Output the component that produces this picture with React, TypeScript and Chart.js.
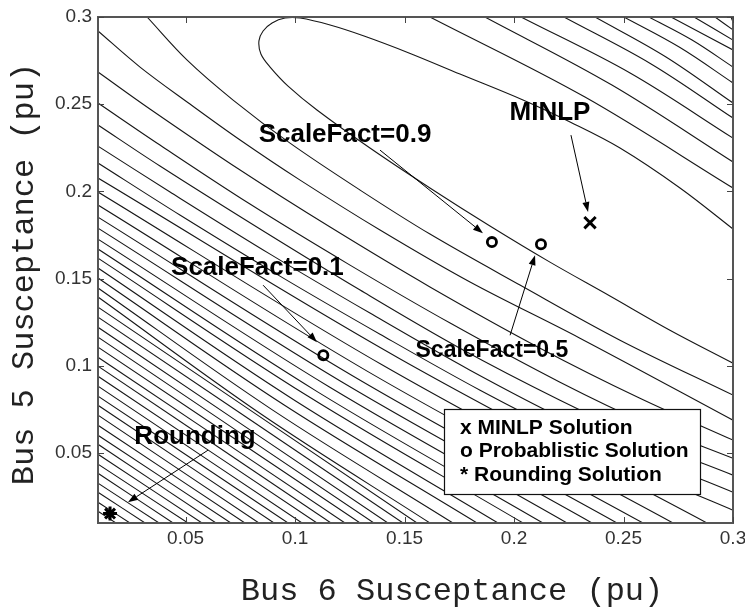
import React, { useEffect, useRef } from 'react';
import { Chart, registerables } from 'chart.js';

Chart.register(...registerables);

type P = [number, number];

// ---------- axes ----------
const X_MIN = 0.01;
const X_MAX = 0.3;
const Y_MIN = 0.01;
const Y_MAX = 0.3;
const xTickValues = [0.05, 0.1, 0.15, 0.2, 0.25, 0.3];
const xTickLabels = ['0.05', '0.1', '0.15', '0.2', '0.25', '0.3'];
const yTickValues = [0.05, 0.1, 0.15, 0.2, 0.25, 0.3];
const yTickLabels = ['0.05', '0.1', '0.15', '0.2', '0.25', '0.3'];
const xTitle = 'Bus 6 Susceptance (pu)';
const yTitle = 'Bus 5 Susceptance (pu)';

// ---------- contour lines ----------
// short contours in the lower-left corner: left-edge crossing y / bottom-edge crossing x
const cornerLeftY = [0.0167, 0.0219, 0.0276, 0.0328, 0.0385, 0.0437, 0.0494, 0.0551, 0.0603, 0.066, 0.0718,
  0.0775, 0.0827, 0.0884, 0.0941, 0.0999, 0.105, 0.1108, 0.1165, 0.1222, 0.128, 0.1337];
const cornerBottomX = [0.0182, 0.0246, 0.0315, 0.0379, 0.0443, 0.0511, 0.0575, 0.0639, 0.0707, 0.0771, 0.0835,
  0.0904, 0.0968, 0.1032, 0.11, 0.1164, 0.1228, 0.1297, 0.136, 0.1424, 0.1493, 0.1557];

// longer contours from left edge to bottom edge
const longContours: P[][] = [
  [[0.01, 0.1395], [0.0846, 0.0723], [0.1616, 0.01]],
  [[0.01, 0.1447], [0.0898, 0.0747], [0.1721, 0.01]],
  [[0.01, 0.1504], [0.0952, 0.0775], [0.1831, 0.01]],
  [[0.01, 0.1561], [0.0999, 0.0802], [0.1927, 0.01]],
  [[0.01, 0.1618], [0.1056, 0.0829], [0.2041, 0.01]],
  [[0.01, 0.167], [0.1101, 0.0853], [0.2132, 0.01]],
  [[0.01, 0.1727], [0.1155, 0.0881], [0.2242, 0.01]],
  [[0.01, 0.179], [0.1212, 0.091], [0.2356, 0.01]],
  [[0.01, 0.1853], [0.1268, 0.094], [0.247, 0.01]],
  [[0.01, 0.1922], [0.1327, 0.0972], [0.2589, 0.01]],
  [[0.01, 0.1997], [0.1395, 0.1008], [0.2726, 0.01]],
  [[0.01, 0.2077], [0.1472, 0.1046], [0.2881, 0.01]],
];

// contours from the top/left edge to the right edge
const sideContours: P[][] = [
  [[0.0324, 0.3], [0.0506, 0.2754], [0.0717, 0.2524], [0.0977, 0.2277], [0.1297, 0.2008], [0.1616, 0.1756], [0.2027, 0.1464], [0.2484, 0.1148], [0.3, 0.0833]],
  [[0.01, 0.292], [0.0292, 0.2713], [0.052, 0.2501], [0.0749, 0.2295], [0.1023, 0.2065], [0.1388, 0.1779], [0.1799, 0.1481], [0.2301, 0.1159], [0.3, 0.0689]],
  [[0.01, 0.2685], [0.0337, 0.2473], [0.0749, 0.2123], [0.116, 0.1796], [0.1616, 0.1453], [0.2119, 0.1102], [0.2575, 0.0815], [0.3, 0.0575]],
  [[0.01, 0.2507], [0.0383, 0.2266], [0.0794, 0.1928], [0.1251, 0.1578], [0.1708, 0.1246], [0.221, 0.0907], [0.2621, 0.066], [0.3, 0.0471]],
  [[0.01, 0.2381], [0.0383, 0.2146], [0.084, 0.1785], [0.1297, 0.1435], [0.1753, 0.1102], [0.221, 0.0804], [0.2621, 0.0563], [0.3, 0.0374]],
  [[0.01, 0.226], [0.0429, 0.1997], [0.0886, 0.1641], [0.1342, 0.1303], [0.1799, 0.0976], [0.2256, 0.0678], [0.2667, 0.0448], [0.3, 0.0276]],
  [[0.01, 0.2163], [0.0474, 0.1865], [0.0931, 0.1515], [0.1388, 0.1182], [0.1845, 0.0861], [0.2301, 0.0569], [0.2712, 0.0328], [0.3, 0.0173]],
];

// innermost contour (open elongated ellipse)
const innerContour: P[] = [
  [0.3, 0.1785], [0.2758, 0.202], [0.2484, 0.2249], [0.2256, 0.2398], [0.2041, 0.2524], [0.1753, 0.2673],
  [0.152, 0.2794], [0.1315, 0.2891], [0.116, 0.2954], [0.1023, 0.2994], [0.0954, 0.2994], [0.0895, 0.2966],
  [0.0854, 0.292], [0.0835, 0.2863], [0.0844, 0.2788], [0.0886, 0.2713], [0.0968, 0.2604], [0.11, 0.2467],
  [0.1342, 0.2249], [0.1616, 0.202], [0.189, 0.1802], [0.2164, 0.1595], [0.2438, 0.1401], [0.2712, 0.1205], [0.3, 0.1016],
];

// contours in the upper-right corner (top edge to right edge)
const upperRightContours: P[][] = [
  [[0.2991, 0.3], [0.3, 0.2971]],
  [[0.2918, 0.3], [0.3, 0.2926]],
  [[0.2822, 0.3], [0.3, 0.2868]],
  [[0.2717, 0.3], [0.3, 0.2811]],
  [[0.2616, 0.3], [0.2813, 0.2868], [0.3, 0.2713]],
  [[0.2502, 0.3], [0.2758, 0.2825], [0.3, 0.2622]],
  [[0.237, 0.3], [0.2694, 0.2771], [0.3, 0.2507]],
  [[0.2228, 0.3], [0.2626, 0.2731], [0.3, 0.2421]],
  [[0.2032, 0.3], [0.253, 0.2679], [0.3, 0.2306]],
  [[0.1867, 0.3], [0.2447, 0.261], [0.3, 0.2169]],
  [[0.1616, 0.3], [0.2324, 0.2541], [0.3, 0.202]],
];

// ---------- solutions ----------
const minlpSolution: P[] = [[0.2347, 0.1821]];
const probabilisticSolutions: P[] = [[0.1899, 0.171], [0.2123, 0.1698], [0.1129, 0.1062]];
const roundingSolution: P[] = [[0.0155, 0.0154]];

// ---------- annotations ----------
const annotationTexts = ['ScaleFact=0.9', 'MINLP', 'ScaleFact=0.1', 'ScaleFact=0.5', 'Rounding'];
const annotationAt: P[] = [[0.1228, 0.2323], [0.2164, 0.245], [0.0828, 0.1561], [0.1899, 0.1089], [0.0543, 0.0592]];
const annotationSizes = [26, 26, 26, 23, 26];
const arrowFrom: P[] = [[0.1388, 0.2237], [0.226, 0.2323], [0.0854, 0.1463], [0.1982, 0.1176], [0.0602, 0.0517]];
const arrowTo: P[] = [[0.1858, 0.1761], [0.2338, 0.1882], [0.11, 0.1136], [0.2096, 0.1635], [0.0237, 0.0219]];
const legendLabels = ['x MINLP Solution', 'o Probablistic Solution', '* Rounding Solution'];

const toXY = (pts: P[]) => pts.map(([x, y]) => ({ x, y }));

const SANS = "'Liberation Sans', Arial, Helvetica, sans-serif";
const MONO = "'Liberation Mono', 'Courier New', monospace";

const overlayPlugin = {
  id: 'overlay',
  afterDatasetsDraw(chart: any) {
    const { ctx, chartArea: a, scales } = chart;
    const px = (v: number) => scales.x.getPixelForValue(v);
    const py = (v: number) => scales.y.getPixelForValue(v);
    ctx.save();

    // arrows
    ctx.strokeStyle = '#000';
    ctx.fillStyle = '#000';
    ctx.lineWidth = 1;
    arrowFrom.forEach((f, i) => {
      const t = arrowTo[i];
      const x0 = px(f[0]), y0 = py(f[1]), x1 = px(t[0]), y1 = py(t[1]);
      const ang = Math.atan2(y1 - y0, x1 - x0);
      const len = 10, hw = 3.5;
      const bx = x1 - Math.cos(ang) * len, by = y1 - Math.sin(ang) * len;
      ctx.beginPath();
      ctx.moveTo(x0, y0);
      ctx.lineTo(bx, by);
      ctx.stroke();
      ctx.beginPath();
      ctx.moveTo(x1, y1);
      ctx.lineTo(bx + Math.sin(ang) * hw, by - Math.cos(ang) * hw);
      ctx.lineTo(bx - Math.sin(ang) * hw, by + Math.cos(ang) * hw);
      ctx.closePath();
      ctx.fill();
    });

    // annotation texts
    ctx.textAlign = 'center';
    ctx.textBaseline = 'middle';
    annotationTexts.forEach((txt, i) => {
      ctx.font = `bold ${annotationSizes[i]}px ${SANS}`;
      ctx.fillText(txt, px(annotationAt[i][0]), py(annotationAt[i][1]));
    });

    // legend box
    const bw = 256, bh = 85;
    const bl = a.right - 289, bt = a.bottom - 114;
    ctx.fillStyle = '#fff';
    ctx.fillRect(bl, bt, bw, bh);
    ctx.strokeStyle = '#111';
    ctx.lineWidth = 1.2;
    ctx.strokeRect(bl + 0.5, bt + 0.5, bw, bh);
    ctx.fillStyle = '#000';
    ctx.textAlign = 'left';
    ctx.font = `bold 21px ${SANS}`;
    legendLabels.forEach((lab, i) => {
      ctx.fillText(lab, bl + 16, bt + 19 + i * 23.5);
    });

    // frame
    ctx.strokeStyle = '#555';
    ctx.lineWidth = 2;
    ctx.strokeRect(a.left, a.top, a.right - a.left, a.bottom - a.top);

    // inward ticks
    ctx.lineWidth = 1;
    ctx.strokeStyle = '#444';
    const tl = 6;
    xTickValues.forEach((v) => {
      const x = Math.round(px(v)) + 0.5;
      ctx.beginPath();
      ctx.moveTo(x, a.bottom);
      ctx.lineTo(x, a.bottom - tl);
      ctx.moveTo(x, a.top);
      ctx.lineTo(x, a.top + tl);
      ctx.stroke();
    });
    yTickValues.forEach((v) => {
      const y = Math.round(py(v)) + 0.5;
      ctx.beginPath();
      ctx.moveTo(a.left, y);
      ctx.lineTo(a.left + tl, y);
      ctx.moveTo(a.right, y);
      ctx.lineTo(a.right - tl, y);
      ctx.stroke();
    });

    // axis titles
    ctx.fillStyle = '#222';
    ctx.font = `32px ${MONO}`;
    ctx.textAlign = 'center';
    ctx.textBaseline = 'alphabetic';
    ctx.fillText(xTitle, 452, 600);
    ctx.translate(33, 274);
    ctx.rotate(-Math.PI / 2);
    ctx.fillText(yTitle, 0, 0);

    ctx.restore();
  },
};

export default function App() {
  const ref = useRef<HTMLCanvasElement>(null);

  useEffect(() => {
    if (!ref.current) return;
    const lineStyle = {
      showLine: true,
      borderColor: '#161616',
      borderWidth: 1.1,
      pointRadius: 0,
      pointHoverRadius: 0,
      tension: 0.35,
      fill: false,
      order: 2,
    };
    const contourSets: P[][] = [
      ...cornerLeftY.map((y, i) => [[X_MIN, y], [cornerBottomX[i], Y_MIN]] as P[]),
      ...longContours,
      ...sideContours,
      innerContour,
      ...upperRightContours,
    ];
    const datasets: any[] = [
      {
        label: 'MINLP Solution',
        data: toXY(minlpSolution),
        pointStyle: 'crossRot',
        pointRadius: 8,
        borderWidth: 3,
        borderColor: '#000',
        backgroundColor: '#000',
        order: 0,
      },
      {
        label: 'Probablistic Solution',
        data: toXY(probabilisticSolutions),
        pointStyle: 'circle',
        pointRadius: 4.6,
        borderWidth: 2.8,
        borderColor: '#000',
        backgroundColor: 'rgba(0,0,0,0)',
        order: 0,
      },
      {
        label: 'Rounding Solution',
        data: toXY(roundingSolution),
        pointStyle: 'star',
        pointRadius: 7,
        borderWidth: 3,
        borderColor: '#000',
        backgroundColor: '#000',
        order: 0,
      },
      ...contourSets.map((pts, i) => ({ label: `contour ${i}`, data: toXY(pts), ...lineStyle })),
    ];

    const chart = new Chart(ref.current, {
      type: 'scatter',
      data: { datasets },
      plugins: [overlayPlugin],
      options: {
        animation: false,
        responsive: false,
        devicePixelRatio: 1,
        events: [],
        layout: { padding: { top: 17, right: 12, bottom: 0, left: 0 } },
        plugins: { legend: { display: false }, tooltip: { enabled: false } },
        scales: {
          x: {
            type: 'linear',
            min: X_MIN,
            max: X_MAX,
            grid: { display: false, drawTicks: false },
            border: { display: false },
            ticks: {
              padding: 4,
              color: '#333',
              font: { family: SANS, size: 19 },
              maxRotation: 0,
              autoSkip: false,
              callback: (v: any) => {
                const i = xTickValues.findIndex((t) => Math.abs(t - Number(v)) < 1e-9);
                return i >= 0 ? xTickLabels[i] : '';
              },
            },
            afterBuildTicks: (s: any) => {
              s.ticks = xTickValues.map((value) => ({ value }));
            },
            afterFit: (s: any) => {
              s.height = 85;
              s.paddingLeft = 0;
              s.paddingRight = 0;
            },
          },
          y: {
            type: 'linear',
            min: Y_MIN,
            max: Y_MAX,
            grid: { display: false, drawTicks: false },
            border: { display: false },
            ticks: {
              padding: 6,
              color: '#333',
              font: { family: SANS, size: 19 },
              autoSkip: false,
              callback: (v: any) => {
                const i = yTickValues.findIndex((t) => Math.abs(t - Number(v)) < 1e-9);
                return i >= 0 ? yTickLabels[i] : '';
              },
            },
            afterBuildTicks: (s: any) => {
              s.ticks = yTickValues.map((value) => ({ value }));
            },
            afterFit: (s: any) => {
              s.width = 98;
              s.paddingTop = 0;
              s.paddingBottom = 0;
            },
          },
        },
      } as any,
    });
    return () => chart.destroy();
  }, []);

  return (
    <div style={{ position: 'fixed', left: 0, top: 0, width: 745, height: 608, background: '#fff' }}>
      <canvas ref={ref} width={745} height={608} style={{ display: 'block', width: 745, height: 608 }} />
    </div>
  );
}
